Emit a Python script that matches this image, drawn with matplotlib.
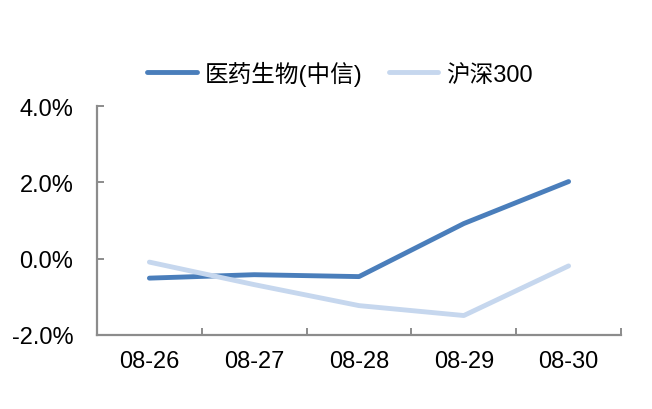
import matplotlib.pyplot as plt
from matplotlib.ticker import FuncFormatter, FixedLocator

plt.rcParams['font.family'] = ['Liberation Sans', 'Noto Sans CJK SC', 'DejaVu Sans']

dates = ["08-26", "08-27", "08-28", "08-29", "08-30"]
pharma = [-0.51, -0.42, -0.47, 0.92, 2.02]
hs300 = [-0.09, -0.68, -1.23, -1.49, -0.19]

fig = plt.figure(figsize=(6.52, 4.10), dpi=100)
ax = fig.add_axes([97 / 652, 74 / 410, 524 / 652, 229 / 410])

x = range(len(dates))
ax.plot(x, pharma, color="#4a7ebb", linewidth=3.5, solid_capstyle="round", label="医药生物(中信)")
ax.plot(x, hs300, color="#c6d7ee", linewidth=3.5, solid_capstyle="round", label="沪深300")

ax.set_xlim(-0.5, len(dates) - 0.5)
ax.set_ylim(-2.0, 4.0)
ax.set_yticks([-2.0, 0.0, 2.0, 4.0])
ax.yaxis.set_major_formatter(FuncFormatter(lambda v, _: f"{v:.1f}%"))

# category labels centred, ticks at category boundaries
ax.set_xticks(list(x))
ax.set_xticklabels(dates)
ax.xaxis.set_minor_locator(FixedLocator([i + 0.5 for i in range(-1, len(dates))]))
ax.tick_params(axis="x", which="major", length=0, pad=10.5, labelsize=17)
ax.tick_params(axis="x", which="minor", direction="in", length=5, color="#8c8c8c", width=1.4)
ax.tick_params(axis="y", direction="in", length=5, color="#8c8c8c", width=1.4, labelsize=17, pad=17)

for side in ["top", "right"]:
    ax.spines[side].set_visible(False)
for side in ["left", "bottom"]:
    ax.spines[side].set_color("#8c8c8c")
    ax.spines[side].set_linewidth(1.6)

fig.legend(loc="center", bbox_to_anchor=(340 / 652, 1 - 74 / 410), ncol=2, frameon=False,
           fontsize=17, handlelength=2.1, columnspacing=1.1, handletextpad=0.35)

fig.savefig("out.png", dpi=100)
